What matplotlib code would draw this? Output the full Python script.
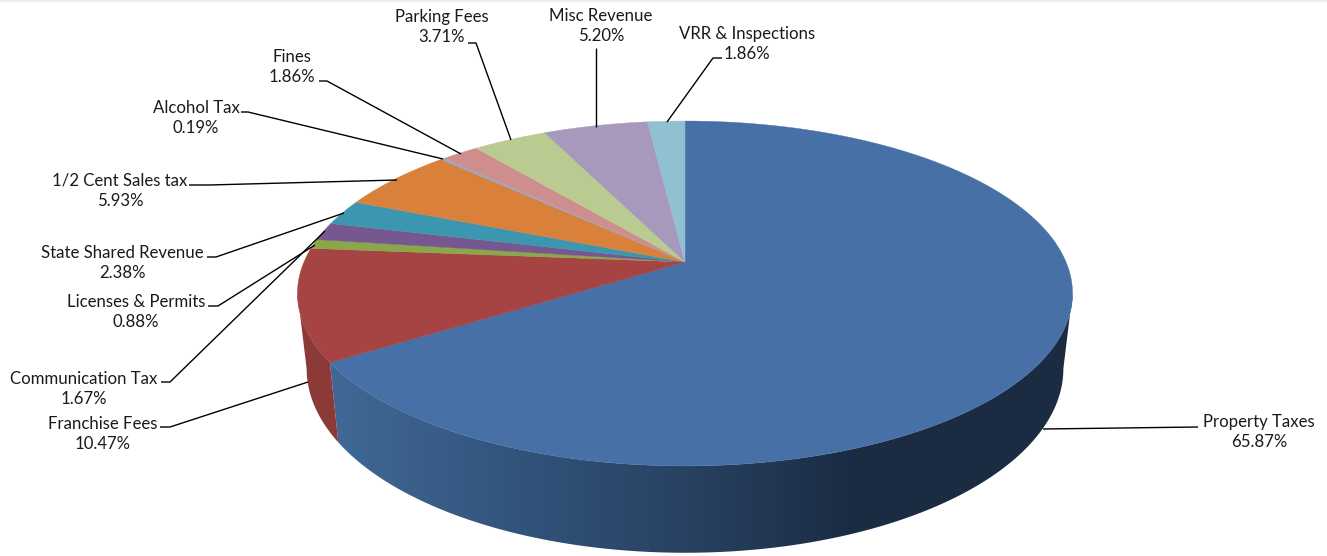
import matplotlib; matplotlib.use("Agg")
import matplotlib.pyplot as plt
from matplotlib.colors import to_rgb
import numpy as np

plt.rcParams["font.family"] = ["Lato", "DejaVu Sans"]

# clockwise from 12 o'clock
labels = ["Property Taxes", "Franchise Fees", "Licenses & Permits", "Communication Tax",
          "State Shared Revenue", "1/2 Cent Sales tax", "Alcohol Tax", "Fines",
          "Parking Fees", "Misc Revenue", "VRR & Inspections"]
shares = [65.87, 10.47, 0.88, 1.67, 2.38, 5.93, 0.19, 1.86, 3.71, 5.20, 1.86]
colors = ["#4670A6", "#A54442", "#8AA849", "#76578F", "#3C96AF", "#D9803A",
          "#8FA9D2", "#CE8E8D", "#B9CB91", "#A799BC", "#92C0D3"]

# label centre (px), then the leader line (px)
label_xy = [(1259, 432), (103, 434), (136, 312), (84, 389), (122, 263), (120, 191),
            (196, 118), (292, 67), (442, 27), (601, 26), (747, 44)]
leaders = [[(1198, 427), (1043, 429)],
           [(160, 427), (170, 427), (308, 382)],
           [(208, 306), (218, 306), (315, 245)],
           [(161, 382), (170, 382), (325, 231)],
           [(207, 257), (216, 257), (344, 213)],
           [(189, 185), (209, 185), (397, 180)],
           [(241, 112), (248, 112), (443, 159)],
           [(319, 81), (327, 81), (461, 154)],
           [(468, 43), (476, 43), (511, 140)],
           [(596, 48), (596, 127)],
           [(722, 58), (713, 58), (667, 122)]]

P = 0.1826


def project(t, a, b, y0):
    # circle seen in perspective, t clockwise from the far side
    u, v = np.sin(t), np.cos(t)
    return 685 + a * u / (1 + P * v), y0 - b * v / (1 + P * v)


def top_rim(t):
    return project(t, 381, 166.7, 262)


def bottom_rim(t):
    return project(t, 372, 178, 335)


fig = plt.figure(figsize=(13.27, 5.56), dpi=100)
ax = fig.add_axes([0, 0, 1, 1])
ax.axis("off")

edges = np.radians(np.concatenate([[0], np.cumsum(shares)]) / sum(shares) * 360)

# only the part of the wall between the two silhouette tangents is visible
front0 = np.arccos(-P)
front1 = 2 * np.pi - front0

for i in range(len(shares)):
    t0, t1 = max(edges[i], front0), min(edges[i + 1], front1)
    if t1 <= t0:
        continue
    ts = np.linspace(t0, t1, 400)
    xa, ya = top_rim(ts)
    xb, yb = bottom_rim(ts[::-1])
    if i == 0:
        wall = ax.fill(np.r_[xa, xb], np.r_[ya, yb], color="none", lw=0, zorder=1)[0]
        xs = np.arange(280, 1090)
        stops = np.array([to_rgb(c) for c in ["#3F6894", "#2F4F75", "#27405F", "#1A2B42"]])
        grad = np.stack([np.interp(xs, [340, 560, 700, 860], stops[:, k]) for k in range(3)], axis=-1)
        im = ax.imshow(grad[None, :, :], extent=(280, 1090, 556, 0), aspect="auto", zorder=1)
        im.set_clip_path(wall)
    else:
        ax.fill(np.r_[xa, xb], np.r_[ya, yb], color=[0.85 * v for v in to_rgb(colors[i])], lw=0, zorder=1)

for i, c in enumerate(colors):
    ts = np.linspace(edges[i], edges[i + 1], 400)
    x, y = top_rim(ts)
    ax.fill(np.r_[685, x], np.r_[262, y], color=c, lw=0.3, zorder=2)

for name, val, (lx, ly), pts in zip(labels, shares, label_xy, leaders):
    ax.text(lx, ly, f"{name}\n{val:.2f}%", ha="center", va="center", fontsize=12.1,
            color="#1a1a1a", linespacing=1.36, zorder=4)
    ax.plot(*zip(*pts), color="black", lw=1.0, zorder=3, solid_capstyle="butt")

ax.set_xlim(0, 1327)
ax.set_ylim(556, 0)
ax.axhline(0.5, color="#eeeeee", lw=1.5, zorder=5)

fig.savefig("out.png", dpi=100)
plt.close()
